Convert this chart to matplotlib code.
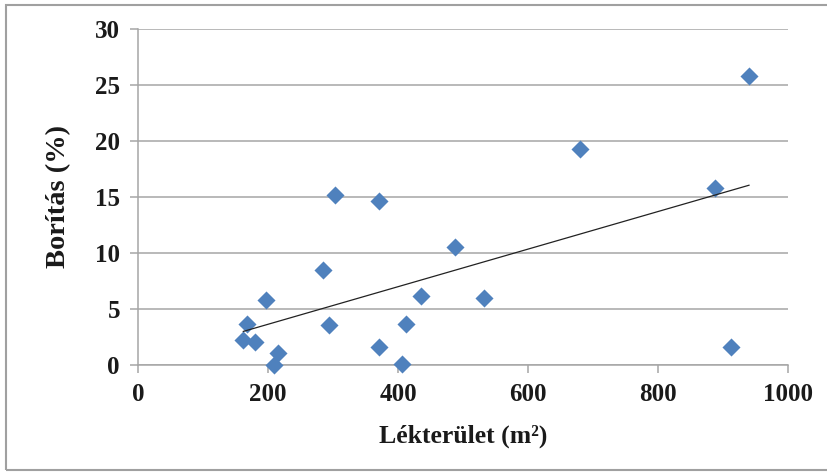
import numpy as np
import matplotlib
matplotlib.use("Agg")
import matplotlib.pyplot as plt
from matplotlib.patches import Rectangle

# Gap area (m2) and canopy cover (%) per site
lek_terulet = [940, 680, 887, 303, 370, 488, 285, 435, 532, 197, 168,
               294, 412, 162, 180, 215, 209, 371, 406, 912]
boritas = [25.8, 19.3, 15.8, 15.2, 14.6, 10.5, 8.5, 6.2, 5.95, 5.8, 3.7,
           3.6, 3.7, 2.2, 2.05, 1.1, 0.0, 1.6, 0.1, 1.6]

x_ticks = [0, 200, 400, 600, 800, 1000]
y_ticks = [0, 5, 10, 15, 20, 25, 30]

plt.rcParams["font.family"] = ["Liberation Serif", "DejaVu Serif"]

fig = plt.figure(figsize=(8.27, 4.72), dpi=100)
ax = fig.add_axes([138 / 827, 1 - 365 / 472, 650 / 827, 336 / 472])

x = np.array(lek_terulet, dtype=float)
y = np.array(boritas, dtype=float)

ax.scatter(x, y, marker="D", s=9.2 ** 2, color="#4F81BD", linewidths=0,
           zorder=3, clip_on=False)

# linear trendline over the data range
slope, intercept = np.polyfit(x, y, 1)
xl = np.array([x.min(), x.max()])
ax.plot(xl, slope * xl + intercept, color="#222222", lw=0.9, zorder=4)

ax.set_xlim(0, 1000)
ax.set_ylim(0, 30)
ax.set_xticks(x_ticks)
ax.set_yticks(y_ticks)
ax.yaxis.grid(True, color="#a6a6a6", lw=1.1)
ax.set_axisbelow(True)

for side in ("top", "right"):
    ax.spines[side].set_visible(False)
for side in ("left", "bottom"):
    ax.spines[side].set_color("#a6a6a6")
    ax.spines[side].set_linewidth(1.1)

ax.tick_params(axis="both", colors="#a6a6a6", length=6, width=1.1,
               labelcolor="#1a1a1a", labelsize=18, pad=7)
for lab in ax.get_xticklabels() + ax.get_yticklabels():
    lab.set_fontweight("bold")

ax.set_xlabel("Lékterület (m²)", fontsize=18.5, fontweight="bold",
              color="#1a1a1a", labelpad=13)
ax.set_ylabel("Borítás (%)", fontsize=20.5, fontweight="bold",
              color="#1a1a1a", labelpad=17)

# chart frame
fig.patches.append(Rectangle((6 / 827, 2 / 472), 830 / 827, 465 / 472,
                             transform=fig.transFigure, fill=False,
                             edgecolor="#a0a0a0", lw=1.5, clip_on=False))

fig.savefig("out.png", dpi=100)
